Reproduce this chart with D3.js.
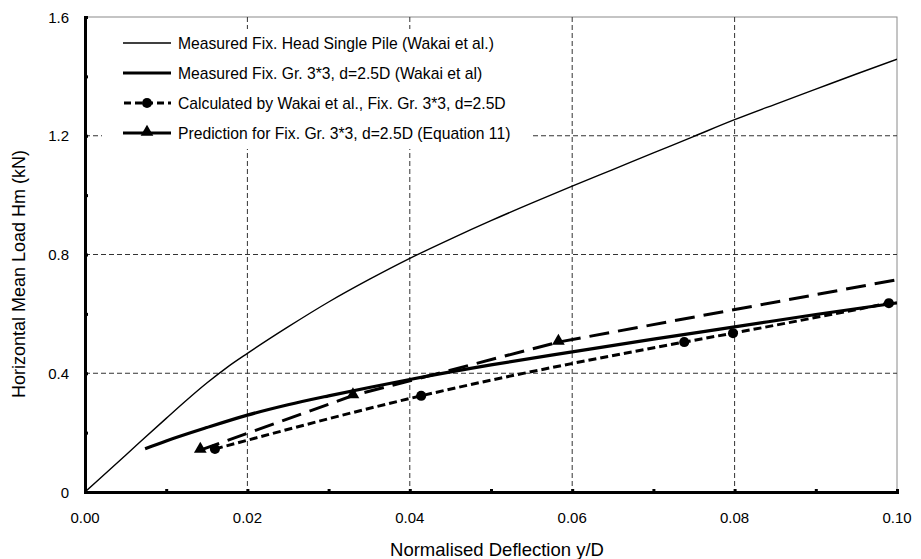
<!DOCTYPE html>
<html>
<head>
<meta charset="utf-8">
<script src="https://cdn.jsdelivr.net/npm/d3@7"></script>
<style>
  html, body { margin: 0; padding: 0; background: #fff; }
  svg { display: block; font-family: "Liberation Sans", Arial, sans-serif; }
</style>
</head>
<body>
<svg id="chart" width="921" height="559"></svg>
<script>
// Normalised deflection y/D (x) and horizontal mean load Hm in kN (y)
const singlePileX = [0, 0.005, 0.01, 0.0125, 0.015, 0.0175, 0.02, 0.025, 0.03, 0.035, 0.04, 0.045, 0.05, 0.055, 0.06, 0.065, 0.07, 0.075, 0.08, 0.085, 0.09, 0.095, 0.10];
const singlePileY = [0, 0.124, 0.248, 0.309, 0.367, 0.42, 0.467, 0.556, 0.64, 0.716, 0.787, 0.852, 0.914, 0.973, 1.03, 1.086, 1.142, 1.198, 1.254, 1.306, 1.357, 1.408, 1.458];

const groupX = [0.0074, 0.01, 0.015, 0.02, 0.025, 0.03, 0.035, 0.04, 0.05, 0.06, 0.07, 0.08, 0.09, 0.10];
const groupY = [0.146, 0.172, 0.217, 0.259, 0.294, 0.324, 0.352, 0.379, 0.428, 0.472, 0.515, 0.556, 0.598, 0.637];

const calcX = [0.016, 0.0414, 0.0738, 0.0798, 0.099];
const calcY = [0.145, 0.324, 0.505, 0.535, 0.636];

const predX = [0.0142, 0.033, 0.0583, 0.125];
const predY = [0.141, 0.325, 0.505, 0.841];

const xTicks = [0, 0.02, 0.04, 0.06, 0.08, 0.10];
const yTicks = [0, 0.4, 0.8, 1.2, 1.6];

const legendLabels = [
  "Measured Fix. Head Single Pile (Wakai et al.)",
  "Measured Fix. Gr. 3*3, d=2.5D (Wakai et al)",
  "Calculated by Wakai et al., Fix. Gr. 3*3, d=2.5D",
  "Prediction for Fix. Gr. 3*3, d=2.5D (Equation 11)"
];

const svg = d3.select("#chart");
const m = { left: 85, right: 897, top: 17, bottom: 492 };

const x = d3.scaleLinear().domain([0, 0.10]).range([m.left, m.right]);
const y = d3.scaleLinear().domain([0, 1.6]).range([m.bottom, m.top]);

const zip = (xs, ys) => xs.map((v, i) => [v, ys[i]]);

svg.append("defs").append("clipPath").attr("id", "plotClip")
  .append("rect").attr("x", m.left).attr("y", m.top)
  .attr("width", m.right - m.left).attr("height", m.bottom - m.top);

// plot frame (top and right)
svg.append("rect")
  .attr("x", m.left).attr("y", m.top)
  .attr("width", m.right - m.left).attr("height", m.bottom - m.top)
  .attr("fill", "none").attr("stroke", "#8a8a8a").attr("stroke-width", 1);

// dashed grid
const grid = svg.append("g").attr("stroke", "#333").attr("stroke-width", 1)
  .attr("stroke-dasharray", "5,3");
xTicks.slice(1, -1).forEach(t => {
  grid.append("line").attr("x1", x(t)).attr("x2", x(t))
    .attr("y1", m.top).attr("y2", m.bottom);
});
yTicks.slice(1, -1).forEach(t => {
  grid.append("line").attr("x1", m.left).attr("x2", m.right)
    .attr("y1", y(t)).attr("y2", y(t));
});

// legend background hides grid beneath it
svg.append("rect").attr("x", 102).attr("y", 29).attr("width", 430).attr("height", 120)
  .attr("fill", "#fff");

// axes
const xAxis = d3.axisBottom(x).tickValues(d3.range(0, 0.1001, 0.01)).tickSize(-3).tickFormat("");
const yAxis = d3.axisLeft(y).tickValues(d3.range(0, 1.601, 0.2)).tickSize(-3).tickFormat("");
const gx = svg.append("g").attr("transform", `translate(0,${m.bottom})`).call(xAxis);
const gy = svg.append("g").attr("transform", `translate(${m.left},0)`).call(yAxis);
[gx, gy].forEach(g => {
  g.select(".domain").attr("stroke", "#000").attr("stroke-width", 3);
  g.selectAll(".tick line").attr("stroke", "#000").attr("stroke-width", 3);
});

// tick labels
svg.append("g").selectAll("text").data(xTicks).join("text")
  .attr("x", d => x(d)).attr("y", 523)
  .attr("text-anchor", "middle").attr("font-size", 15).attr("fill", "#000")
  .text(d => d3.format(".2f")(d));
svg.append("g").selectAll("text").data(yTicks).join("text")
  .attr("x", 69).attr("y", d => y(d) + 5.5)
  .attr("text-anchor", "end").attr("font-size", 15).attr("fill", "#000")
  .text(d => d === 0 ? "0" : d3.format(".1f")(d));

// axis titles
svg.append("text").attr("x", 497).attr("y", 556).attr("text-anchor", "middle")
  .attr("font-size", 18.5).text("Normalised Deflection y/D");
svg.append("text").attr("transform", "translate(25,274) rotate(-90)")
  .attr("text-anchor", "middle").attr("font-size", 18).text("Horizontal Mean Load Hm (kN)");

// series
const line = d3.line().x(d => x(d[0])).y(d => y(d[1])).curve(d3.curveMonotoneX);
const plot = svg.append("g").attr("clip-path", "url(#plotClip)");

plot.append("path").datum(zip(singlePileX, singlePileY)).attr("d", line)
  .attr("fill", "none").attr("stroke", "#000").attr("stroke-width", 1.4);

plot.append("path").datum(zip(groupX, groupY)).attr("d", line)
  .attr("fill", "none").attr("stroke", "#000").attr("stroke-width", 3.2);

plot.append("path").datum(zip(calcX, calcY)).attr("d", line)
  .attr("fill", "none").attr("stroke", "#000").attr("stroke-width", 3)
  .attr("stroke-dasharray", "8,4");

plot.append("path").datum(zip(predX, predY)).attr("d", d3.line().x(d => x(d[0])).y(d => y(d[1])))
  .attr("fill", "none").attr("stroke", "#000").attr("stroke-width", 3)
  .attr("stroke-dasharray", "20,9");

const circleSym = d3.symbol().type(d3.symbolCircle).size(80);
const triSym = d3.symbol().type(d3.symbolTriangle).size(70);

plot.append("g").selectAll("path").data(zip(calcX, calcY)).join("path")
  .attr("transform", d => `translate(${x(d[0])},${y(d[1])})`)
  .attr("d", circleSym).attr("fill", "#000");

plot.append("g").selectAll("path").data(zip(predX, predY)).join("path")
  .attr("transform", d => `translate(${x(d[0])},${y(d[1]) - 1})`)
  .attr("d", triSym).attr("fill", "#000");

// legend
const legend = svg.append("g");
const rowY = [43, 73, 103, 133];
const lx1 = 123, lx2 = 171;
legendLabels.forEach((label, i) => {
  const gy0 = rowY[i];
  const l = legend.append("line").attr("x1", lx1).attr("x2", lx2)
    .attr("y1", gy0).attr("y2", gy0).attr("stroke", "#000");
  if (i === 0) l.attr("stroke-width", 1.4);
  if (i === 1) l.attr("stroke-width", 3);
  if (i === 2) l.attr("stroke-width", 3).attr("stroke-dasharray", "7,4").attr("x1", lx1 + 1);
  if (i === 3) l.attr("stroke-width", 3);
  if (i === 2) legend.append("path").attr("transform", `translate(${(lx1 + lx2) / 2},${gy0})`)
    .attr("d", circleSym).attr("fill", "#000");
  if (i === 3) legend.append("path").attr("transform", `translate(${(lx1 + lx2) / 2},${gy0 - 1})`)
    .attr("d", triSym).attr("fill", "#000");
  legend.append("text").attr("x", 178).attr("y", gy0 + 5.5)
    .attr("font-size", 15.7).attr("fill", "#000").text(label);
});
</script>
</body>
</html>
